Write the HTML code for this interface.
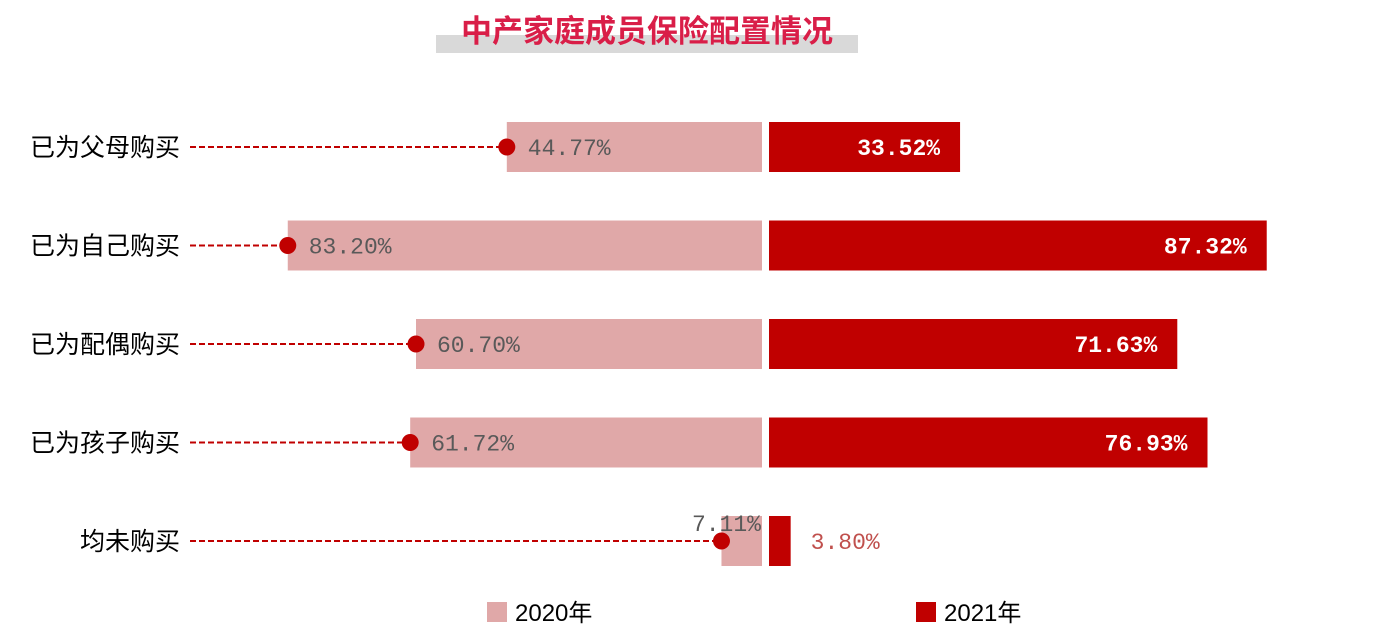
<!DOCTYPE html>
<html><head><meta charset="utf-8">
<style>
body{margin:0;background:#fff;}
svg{display:block;}
</style></head>
<body>
<svg id="chart" width="1389" height="637" xmlns="http://www.w3.org/2000/svg">
<rect x="436" y="35" width="422" height="18" fill="#d9d9d9"/>
<text x="647" y="42" text-anchor="middle" font-family="'Liberation Sans','Noto Sans CJK SC',sans-serif" font-size="31" font-weight="bold" fill="#d91e48">中产家庭成员保险配置情况</text>
<g id="bars"></g>
<rect x="487" y="602" width="20" height="20" fill="#e0a8a8"/>
<text x="515" y="621" font-family="'Liberation Sans','Noto Sans CJK SC',sans-serif" font-size="24" fill="#000">2020年</text>
<rect x="916" y="602" width="20" height="20" fill="#c00000"/>
<text x="944" y="621" font-family="'Liberation Sans','Noto Sans CJK SC',sans-serif" font-size="24" fill="#000">2021年</text>
</svg>
<script>
const categories = ["已为父母购买","已为自己购买","已为配偶购买","已为孩子购买","均未购买"];
const values2020 = [44.77, 83.20, 60.70, 61.72, 7.11];
const values2021 = [33.52, 87.32, 71.63, 76.93, 3.80];

const NS = "http://www.w3.org/2000/svg";
const g = document.getElementById('bars');
const scale = 5.7;
const leftAxis = 762, rightAxis = 769;
const rowY = i => 122 + i * 98.5;
const barH = 50;
const xL = v => leftAxis - v * scale;
const xR = v => rightAxis + v * scale;
function mk(tag, attrs, text){
  const e = document.createElementNS(NS, tag);
  for (const k in attrs) e.setAttribute(k, attrs[k]);
  if (text !== undefined) e.textContent = text;
  g.appendChild(e);
  return e;
}
const fmt = v => v.toFixed(2) + "%";
categories.forEach((c, i) => {
  const y = rowY(i), cy = y + barH / 2;
  const t = mk('text', {x:180, y:cy+9, 'text-anchor':'end', 'font-family':"'Liberation Sans','Noto Sans CJK SC',sans-serif", 'font-size':25, fill:'#000'}, c);
  
  
  const x0 = xL(values2020[i]);
  const b1 = mk('rect', {x:x0, y:y, width:leftAxis - x0, height:barH, fill:'#e0a8a8'});
  
  
  const x1 = xR(values2021[i]);
  const b2 = mk('rect', {x:rightAxis, y:y, width:x1 - rightAxis, height:barH, fill:'#c00000'});
  
  
  const ln = mk('line', {x1:190, y1:cy, x2:x0, y2:cy, stroke:'#c00000', 'stroke-width':2, 'stroke-dasharray':'6,3'});
  
  
  const dot = mk('circle', {cx:x0, cy:cy, r:8.5, fill:'#c00000'});
  
  
  const small = (leftAxis - x0) < 100;
  const l1 = mk('text', small ? {x:x0+5, y:y+15, 'text-anchor':'middle'} : {x:x0+21, y:cy+8},
    fmt(values2020[i]));
  l1.setAttribute('font-family', "'Liberation Mono',monospace");
  l1.setAttribute('font-size', 23);
  l1.setAttribute('fill', '#595959');
  
  
  const inside = (x1 - rightAxis) > 110;
  const l2 = mk('text', inside ? {x:x1-20, y:cy+8, 'text-anchor':'end', fill:'#fff', 'font-weight':'bold'} : {x:x1+20, y:cy+8, fill:'#c0504d'},
    fmt(values2021[i]));
  l2.setAttribute('font-family', "'Liberation Mono',monospace");
  l2.setAttribute('font-size', 23);
  
  
});
</script>
</body></html>
